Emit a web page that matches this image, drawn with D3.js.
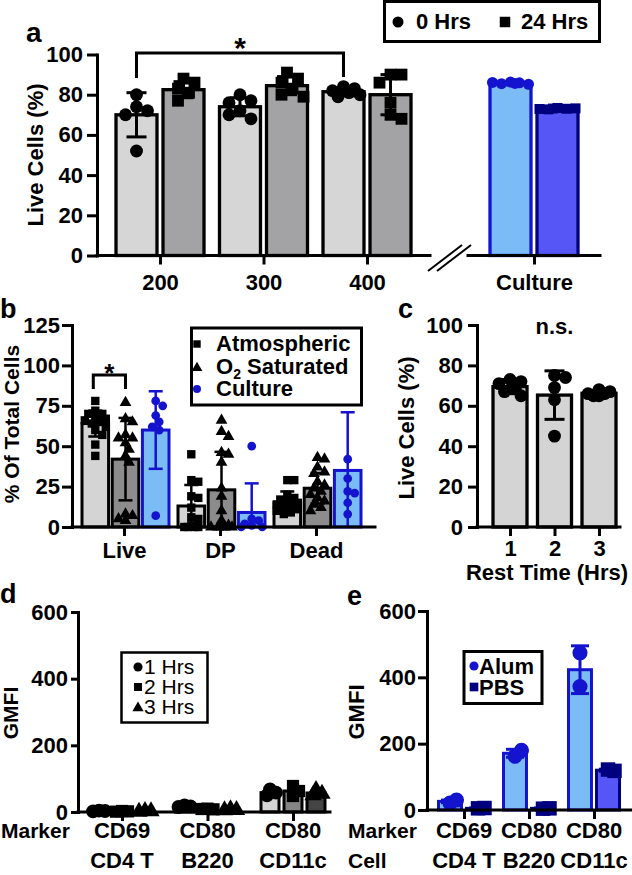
<!DOCTYPE html>
<html><head><meta charset="utf-8">
<script src="https://cdn.jsdelivr.net/npm/d3@7"></script>
<style>
body{margin:0;background:#fff}
svg{display:block}
text{font-family:"Liberation Sans",Arial,Helvetica,sans-serif}
</style>
</head><body>
<svg id="chart" width="632" height="875"></svg>
<script>
// ================= DATA =================
// Panel a : live cells (%) by dose, 0 vs 24 hrs, plus culture
const aDoses = ["200", "300", "400"];
const aCultureCat = ["Culture"];
const aTimes = ["0 Hrs", "24 Hrs"];
const aYTicks = [0, 20, 40, 60, 80, 100];
const a0hMean = [70, 74, 81.5];
const a0hSd = [11, 4.5, 2];
const a0hPts = [[80, 74, 72, 70, 52], [80, 77, 76, 72, 68, 70], [84, 83, 82, 81, 80, 79]];
const a24hMean = [82.5, 84.5, 80];
const a24hSd = [4, 4.5, 10];
const a24hPts = [[88, 86, 83, 81, 77], [91, 88, 86, 83, 80, 79], [90, 90, 86, 76, 70, 68]];
const aCultureMean = [85.5, 73];
const aCultureSd = [0.6, 0.5];
const aCulture0hPts = [86.3, 85.9, 85.5, 85.2, 86.1, 85.6];
const aCulture24hPts = [73.4, 73, 72.7, 73.2, 72.9, 73.1];

// Panel b : % of total cells
const bCats = ["Live", "DP", "Dead"];
const bGroups = ["Atmospheric", "O2 Saturated", "Culture"];
const bYTicks = [0, 25, 50, 75, 100, 125];
const bAtmMean = [64, 13, 15];
const bAtmSd = [8, 13, 7];
const bAtmPts = [[78, 72, 70, 70, 68, 67, 66, 65, 64, 62, 60, 57, 51, 44],
                 [45, 29, 28, 19, 18, 12, 6, 5, 1, 0, 0, 0, 0],
                 [29, 29, 20, 18, 17, 16, 15, 14, 13, 12, 11, 10, 9, 8]];
const bO2Mean = [42, 23, 24];
const bO2Sd = [25.5, 23.5, 9.5];
const bO2Pts = [[77, 67, 65, 57, 55, 55, 52, 48, 44, 40, 8, 7, 5, 4],
                [66, 59, 56, 46, 45, 40, 24, 19, 10, 4, 1, 0, 0, 0, 0, 0],
                [43, 42, 37, 34, 33, 28, 26, 24, 22, 20, 18, 16, 14, 12, 10]];
const bCulMean = [60, 9, 35];
const bCulSd = [24, 18, 36];
const bCulPts = [[78, 75, 69, 65, 62, 60, 7],
                 [50, 5, 4, 2, 1, 0, 0],
                 [105, 42, 30, 22, 21, 15, 8]];

// Panel c : live cells vs rest time
const cTimes = ["1", "2", "3"];
const cYTicks = [0, 20, 40, 60, 80, 100];
const cMean = [69.5, 65.3, 66.2];
const cSd = [3.5, 12, 1.5];
const cPts = [[73, 72, 71, 69, 67, 65], [75, 74, 69, 63, 45], [68, 67, 66, 66, 65, 65]];

// Panel d : GMFI by marker, rest time
const dMarkerRow = ["CD69", "CD80", "CD80"];
const dCellRow = ["CD4 T", "B220", "CD11c"];
const dTimes = ["1 Hrs", "2 Hrs", "3 Hrs"];
const dYTicks = [0, 200, 400, 600];
const d1hMean = [3, 17, 58];
const d1hPts = [[4, 3, 2], [20, 17, 15], [68, 58, 50]];
const d2hMean = [2, 9, 63];
const d2hPts = [[3, 2, 1], [10, 8, 9], [78, 63, 48]];
const d3hMean = [2, 6, 57];
const d3hPts = [[3, 2, 1], [8, 6, 5], [66, 55, 50]];

// Panel e : GMFI Alum vs PBS
const eMarkerRow = ["CD69", "CD80", "CD80"];
const eCellRow = ["CD4 T", "B220", "CD11c"];
const eGroups = ["Alum", "PBS"];
const eYTicks = [0, 200, 400, 600];
const eAlumMean = [26, 171, 423];
const eAlumSd = [4, 12, 72];
const eAlumPts = [[21, 30], [162, 180], [474, 372]];
const ePbsMean = [5, 5, 120];
const ePbsSd = [1, 1, 3];
const ePbsPts = [[5, 6], [4, 5], [122, 118]];

// ================= DRAWING =================
const svg = d3.select("#chart");
const FONT = '"Liberation Sans", Arial, Helvetica, sans-serif';
const LBLUE = "#7cbcf6", BLUE = "#1414cf", PBLUE = "#5656f7", NAVY = "#00007f";

function txt(x, y, s, o = {}) {
  return svg.append("text").attr("x", x).attr("y", y).text(s)
    .attr("font-size", o.size || 22).attr("font-weight", o.weight || "bold")
    .attr("text-anchor", o.anchor || "start").attr("fill", o.fill || "#000");
}
function vTitle(x, yc, s, size = 22) {
  svg.append("text").attr("transform", `translate(${x},${yc}) rotate(-90)`)
    .attr("text-anchor", "middle").attr("font-size", size).attr("font-weight", "bold").text(s);
}
function styleAxis(g, size = 22) {
  g.selectAll("path.domain").attr("stroke", "#000").attr("stroke-width", 3).attr("stroke-linecap", "square");
  g.selectAll(".tick line").attr("stroke", "#000").attr("stroke-width", 3);
  g.selectAll(".tick text").attr("fill", "#000").style("font-family", FONT)
    .style("font-weight", "bold").style("font-size", size + "px");
}
function yAxis(x, y, ticks, tickSize, pad) {
  const g = svg.append("g").attr("transform", `translate(${x},0)`)
    .call(d3.axisLeft(y).tickValues(ticks).tickSize(tickSize).tickSizeOuter(0).tickPadding(pad).tickFormat(d3.format("d")));
  styleAxis(g);
  return g;
}
function hLine(x0, x1, y) {
  svg.append("line").attr("x1", x0).attr("x2", x1).attr("y1", y).attr("y2", y)
    .attr("stroke", "#000").attr("stroke-width", 3).attr("stroke-linecap", "square");
}
function xAxis(xScale, y0, tickSize, pad, labels = true) {
  const ax = d3.axisBottom(xScale).tickSize(tickSize).tickSizeOuter(0).tickPadding(pad);
  if (!labels) ax.tickFormat(() => "");
  const g = svg.append("g").attr("transform", `translate(0,${y0})`).call(ax);
  styleAxis(g);
  g.select("path.domain").remove();
  return g;
}
// deterministic spread of overlapping points (beeswarm style)
function swarm(vals, y, minDist, maxOff) {
  const placed = [];
  return vals.map(v => {
    const py = y(v);
    const step = minDist * 0.5;
    const cands = [0];
    for (let k = 1; k * step <= maxOff; k++) cands.push(k * step, -k * step);
    let best = 0, bestScore = -1;
    for (const dx of cands) {
      let md = Infinity;
      for (const p of placed) md = Math.min(md, Math.hypot(p.dx - dx, p.py - py));
      if (md >= minDist) { best = dx; break; }
      if (md > bestScore) { bestScore = md; best = dx; }
    }
    placed.push({ dx: best, py });
    return { v, dx: best };
  });
}
function symPath(type, size) { return d3.symbol().type(type).size(size)(); }

// series: {cx:[...], mean, sd, pts, barW, fill, stroke, sw, sym, symSize, pColor, eColor, capW, minDist}
function drawPanel(y, series) {
  const base = y(0);
  series.forEach(s => s.cx.forEach((cx, i) => {
    svg.append("rect").attr("x", cx - s.barW / 2).attr("y", y(s.mean[i]))
      .attr("width", s.barW).attr("height", base - y(s.mean[i]))
      .attr("fill", s.fill).attr("stroke", s.stroke).attr("stroke-width", s.sw);
  }));
  series.forEach(s => s.cx.forEach((cx, i) => {
    if (!s.sd) return;
    const m = s.mean[i], sd = s.sd[i];
    const y1 = y(m + sd), y2 = y(Math.max(m - sd, 0));
    const g = svg.append("g").attr("stroke", s.eColor).attr("stroke-width", s.ew || 3);
    g.append("line").attr("x1", cx).attr("x2", cx).attr("y1", y1).attr("y2", y2);
    g.append("line").attr("x1", cx - s.capW / 2).attr("x2", cx + s.capW / 2).attr("y1", y1).attr("y2", y1);
    if (m - sd > 0) g.append("line").attr("x1", cx - s.capW / 2).attr("x2", cx + s.capW / 2).attr("y1", y2).attr("y2", y2);
  }));
  series.forEach(s => s.cx.forEach((cx, i) => {
    if (!s.pts) return;
    const sp = swarm(s.pts[i], y, s.minDist, s.barW / 2 - 2);
    sp.forEach(p => {
      svg.append("path").attr("d", symPath(s.sym, s.symSize))
        .attr("transform", `translate(${cx + p.dx},${y(p.v)})`).attr("fill", s.pColor);
    });
  }));
}
function legendBox(x, y, w, h, sw = 3) {
  svg.append("rect").attr("x", x).attr("y", y).attr("width", w).attr("height", h)
    .attr("fill", "#fff").attr("stroke", "#000").attr("stroke-width", sw);
}
function legendSym(x, y, type, size, color) {
  svg.append("path").attr("d", symPath(type, size)).attr("transform", `translate(${x},${y})`).attr("fill", color);
}

// ---------- Panel a ----------
{
  const y = d3.scaleLinear().domain([0, 100]).range([255.5, 54.5]);
  const x = d3.scalePoint().domain(aDoses).range([160, 367]);
  const xc = d3.scalePoint().domain(aCultureCat).range([468, 600]).padding(0.5);
  const sub = d3.scaleBand().domain(aTimes).range([-44, 44]).paddingInner(0.128);
  const bw = sub.bandwidth();
  drawPanel(y, [
    { cx: aDoses.map(d => x(d) + sub(aTimes[0]) + bw / 2), mean: a0hMean, sd: a0hSd, pts: a0hPts, barW: bw,
      fill: "#d6d6d6", stroke: "#000", sw: 3.3, sym: d3.symbolCircle, symSize: 130, pColor: "#000", eColor: "#000", capW: 20, minDist: 11 },
    { cx: aDoses.map(d => x(d) + sub(aTimes[1]) + bw / 2), mean: a24hMean, sd: a24hSd, pts: a24hPts, barW: bw,
      fill: "#a3a3a5", stroke: "#000", sw: 3.3, sym: d3.symbolSquare, symSize: 140, pColor: "#000", eColor: "#000", capW: 20, minDist: 11 },
    { cx: [xc("Culture") + sub(aTimes[0]) + bw / 2], mean: [aCultureMean[0]], sd: [aCultureSd[0]], pts: [aCulture0hPts], barW: bw,
      fill: LBLUE, stroke: BLUE, sw: 3.3, sym: d3.symbolCircle, symSize: 95, pColor: BLUE, eColor: BLUE, capW: 20, minDist: 9 },
    { cx: [xc("Culture") + sub(aTimes[1]) + bw / 2], mean: [aCultureMean[1]], sd: [aCultureSd[1]], pts: [aCulture24hPts], barW: bw,
      fill: PBLUE, stroke: NAVY, sw: 3.3, sym: d3.symbolSquare, symSize: 100, pColor: NAVY, eColor: NAVY, capW: 20, minDist: 9 }
  ]);
  yAxis(97, y, aYTicks, 10, 4);
  hLine(97, 430, y(0));
  hLine(468, 600, y(0));
  xAxis(x, y(0), 9, 10);
  xAxis(xc, y(0), 9, 10);
  // axis break
  svg.append("line").attr("x1", 428).attr("y1", 271).attr("x2", 462).attr("y2", 245).attr("stroke", "#000").attr("stroke-width", 2);
  svg.append("line").attr("x1", 437).attr("y1", 271).attr("x2", 471).attr("y2", 245).attr("stroke", "#000").attr("stroke-width", 2);
  vTitle(43, 155, "Live Cells (%)");
  txt(26, 42, "a", { size: 28 });
  // significance bracket
  const bx1 = x("200") + sub(aTimes[0]) + bw / 2, bx2 = x("400") + sub(aTimes[0]) + bw / 2;
  svg.append("path").attr("d", `M${bx1},78V53H${bx2}V77`).attr("fill", "none").attr("stroke", "#000").attr("stroke-width", 3);
  txt((bx1 + bx2) / 2, 58, "*", { size: 30, anchor: "middle" });
  // legend
  legendBox(384.5, 1.5, 215, 40);
  legendSym(398, 22, d3.symbolCircle, 95, "#000");
  txt(416, 29, "0 Hrs");
  legendSym(505, 22, d3.symbolSquare, 110, "#000");
  txt(521, 29, "24 Hrs");
}

// ---------- Panel b ----------
{
  const y = d3.scaleLinear().domain([0, 125]).range([527, 325]);
  const x = d3.scalePoint().domain(bCats).range([124, 316]);
  const sub = d3.scaleBand().domain(bGroups).range([-42, 45]).paddingInner(0.12);
  const bw = sub.bandwidth();
  const cx = g => bCats.map(c => x(c) + sub(g) + bw / 2);
  drawPanel(y, [
    { cx: cx(bGroups[0]), mean: bAtmMean, sd: bAtmSd, pts: bAtmPts, barW: bw, fill: "#d4d4d4", stroke: "#000", sw: 3,
      sym: d3.symbolSquare, symSize: 70, pColor: "#000", eColor: "#000", capW: 14, minDist: 7, ew: 2.5 },
    { cx: cx(bGroups[1]), mean: bO2Mean, sd: bO2Sd, pts: bO2Pts, barW: bw, fill: "#8c8c8c", stroke: "#000", sw: 3,
      sym: d3.symbolTriangle, symSize: 60, pColor: "#000", eColor: "#000", capW: 14, minDist: 7, ew: 2.5 },
    { cx: cx(bGroups[2]), mean: bCulMean, sd: bCulSd, pts: bCulPts, barW: bw, fill: LBLUE, stroke: BLUE, sw: 3,
      sym: d3.symbolCircle, symSize: 60, pColor: BLUE, eColor: BLUE, capW: 14, minDist: 7, ew: 2.5 }
  ]);
  yAxis(72, y, bYTicks, 10, 2);
  hLine(72, 375, y(0));
  xAxis(x, y(0), 9, 6);
  vTitle(19, 424, "% Of Total Cells", 21);
  txt(0, 318, "b", { size: 27 });
  // significance
  const b1 = cx(bGroups[0])[0] - 2, b2 = cx(bGroups[1])[0];
  svg.append("path").attr("d", `M${b1},389V375H${b2}V389`).attr("fill", "none").attr("stroke", "#000").attr("stroke-width", 3);
  txt((b1 + b2) / 2, 382, "*", { size: 26, anchor: "middle" });
  // legend
  legendBox(191.5, 328, 170, 77);
  legendSym(197, 344, d3.symbolSquare, 55, "#000");
  txt(216, 351, "Atmospheric");
  legendSym(197, 368, d3.symbolTriangle, 50, "#000");
  const t = txt(216, 374, "O");
  t.append("tspan").text("2").attr("font-size", 14).attr("dy", 5);
  t.append("tspan").text(" Saturated").attr("dy", -5);
  legendSym(197, 389, d3.symbolCircle, 50, BLUE);
  txt(216, 396, "Culture");
}

// ---------- Panel c ----------
{
  const y = d3.scaleLinear().domain([0, 100]).range([527, 325]);
  const x = d3.scalePoint().domain(cTimes).range([510, 599]);
  drawPanel(y, [
    { cx: cTimes.map(d => x(d)), mean: cMean, sd: cSd, pts: cPts, barW: 34, fill: "#d4d4d4", stroke: "#000", sw: 3.3,
      sym: d3.symbolCircle, symSize: 130, pColor: "#000", eColor: "#000", capW: 20, minDist: 11 }
  ]);
  yAxis(477, y, cYTicks, 9, 5);
  hLine(477, 620, y(0));
  xAxis(x, y(0), 9, 4);
  txt(547, 580, "Rest Time (Hrs)", { anchor: "middle" });
  vTitle(414, 428, "Live Cells (%)");
  txt(398, 318, "c", { size: 27 });
  txt(x("2"), 334, "n.s.", { anchor: "middle" });
}

// ---------- Panel d ----------
{
  const cats = dMarkerRow.map((m, i) => m + "|" + dCellRow[i]);
  const y = d3.scaleLinear().domain([0, 600]).range([812, 612]);
  const x = d3.scalePoint().domain(cats).range([122, 293]);
  const sub = d3.scaleBand().domain(dTimes).range([-32, 32]).paddingInner(0.217);
  const bw = sub.bandwidth();
  const cx = g => cats.map(c => x(c) + sub(g) + bw / 2);
  drawPanel(y, [
    { cx: cx(dTimes[0]), mean: d1hMean, pts: d1hPts, barW: bw, fill: "#d4d4d4", stroke: "#000", sw: 3,
      sym: d3.symbolCircle, symSize: 150, pColor: "#000", minDist: 6 },
    { cx: cx(dTimes[1]), mean: d2hMean, pts: d2hPts, barW: bw, fill: "#858585", stroke: "#000", sw: 3,
      sym: d3.symbolSquare, symSize: 150, pColor: "#000", minDist: 6 },
    { cx: cx(dTimes[2]), mean: d3hMean, pts: d3hPts, barW: bw, fill: "#444", stroke: "#000", sw: 3,
      sym: d3.symbolTriangle, symSize: 130, pColor: "#000", minDist: 6 }
  ]);
  yAxis(78, y, dYTicks, 7, 3);
  hLine(78, 330, y(0));
  xAxis(x, y(0), 9, 0, false);
  cats.forEach((c, i) => {
    txt(x(c), 838, dMarkerRow[i], { anchor: "middle" });
    txt(x(c), 868, dCellRow[i], { anchor: "middle" });
  });
  txt(1, 838, "Marker", { size: 21 });
  vTitle(18, 713, "GMFI", 21);
  txt(0, 603, "d", { size: 27 });
  legendBox(121.5, 652.5, 86, 70, 2.5);
  legendSym(138, 667, d3.symbolCircle, 65, "#000");
  txt(144, 674, "1 Hrs", { weight: "normal", size: 21 });
  legendSym(138, 687, d3.symbolSquare, 65, "#000");
  txt(144, 694, "2 Hrs", { weight: "normal", size: 21 });
  legendSym(138, 708, d3.symbolTriangle, 55, "#000");
  txt(144, 714, "3 Hrs", { weight: "normal", size: 21 });
}

// ---------- Panel e ----------
{
  const cats = eMarkerRow.map((m, i) => m + "|" + eCellRow[i]);
  const y = d3.scaleLinear().domain([0, 600]).range([810, 611]);
  const x = d3.scalePoint().domain(cats).range([464, 594]);
  const sub = d3.scaleBand().domain(eGroups).range([-25.5, 25.5]).paddingInner(0.18);
  const bw = sub.bandwidth();
  const cx = g => cats.map(c => x(c) + sub(g) + bw / 2);
  drawPanel(y, [
    { cx: cx("Alum"), mean: eAlumMean, sd: eAlumSd, pts: eAlumPts, barW: bw, fill: LBLUE, stroke: BLUE, sw: 3,
      sym: d3.symbolCircle, symSize: 180, pColor: BLUE, eColor: BLUE, capW: 18, minDist: 13 },
    { cx: cx("PBS"), mean: ePbsMean, sd: ePbsSd, pts: ePbsPts, barW: bw, fill: PBLUE, stroke: NAVY, sw: 3,
      sym: d3.symbolSquare, symSize: 210, pColor: NAVY, eColor: NAVY, capW: 18, minDist: 13 }
  ]);
  yAxis(427, y, eYTicks, 9, 2);
  hLine(427, 632, y(0));
  xAxis(x, y(0), 9, 0, false);
  cats.forEach((c, i) => {
    txt(x(c), 838, eMarkerRow[i], { anchor: "middle" });
    txt(x(c), 868, eCellRow[i], { anchor: "middle" });
  });
  txt(348, 838, "Marker", { size: 21 });
  txt(348, 868, "Cell", { size: 21 });
  vTitle(364, 712, "GMFI");
  txt(347, 605, "e", { size: 27 });
  legendBox(464, 651.5, 78, 52);
  legendSym(474, 666, d3.symbolCircle, 65, BLUE);
  txt(479, 674, "Alum");
  legendSym(474, 687, d3.symbolSquare, 75, NAVY);
  txt(479, 695, "PBS");
}
</script>
</body></html>
